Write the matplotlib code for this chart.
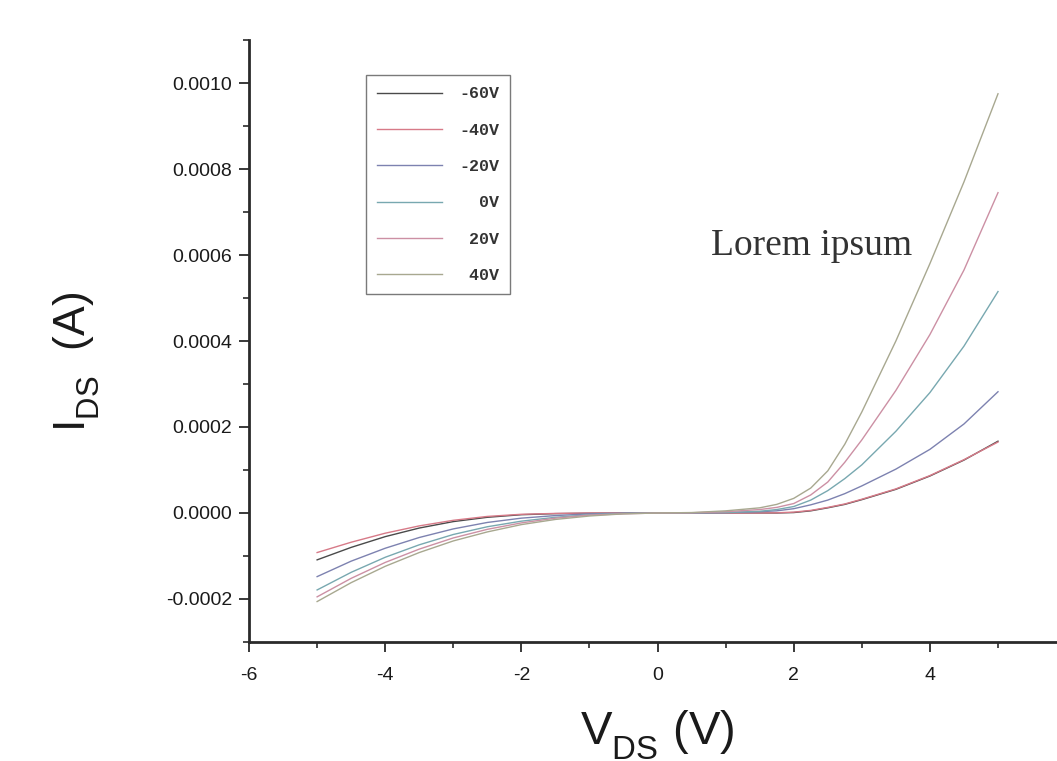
import matplotlib

matplotlib.use("Agg")
import matplotlib.pyplot as plt
import matplotlib._mathtext as mathtext_internals
from matplotlib.ticker import MultipleLocator, FormatStrFormatter

plt.rcParams["axes.unicode_minus"] = False
plt.rcParams["font.family"] = ["Liberation Sans", "DejaVu Sans"]
plt.rcParams["mathtext.fontset"] = "custom"
plt.rcParams["mathtext.rm"] = "Liberation Sans"
# drop the DS subscripts a little further below the baseline
mathtext_internals.FontConstantsBase.sub1 = 0.6
mathtext_internals.FontConstantsBase.sub2 = 0.8

# drain bias sweep (V); denser steps where the curves turn on
v_ds = [-5, -4.5, -4, -3.5, -3, -2.5, -2, -1.5, -1, -0.5, 0,
        0.5, 1, 1.5, 1.75, 2, 2.25, 2.5, 2.75, 3, 3.5, 4, 4.5, 5]

# drain current per gate bias, in units of 1e-4 A
i_m60 = [-1.09, -0.80, -0.55, -0.35, -0.20, -0.10, -0.04, -0.015, -0.005, 0, 0,
         0, 0, 0, 0, 0.01, 0.05, 0.12, 0.20, 0.31, 0.55, 0.86, 1.23, 1.67]
i_m40 = [-0.92, -0.68, -0.47, -0.30, -0.17, -0.08, -0.03, -0.01, 0, 0, 0,
         0, 0, 0, 0.005, 0.02, 0.06, 0.13, 0.21, 0.32, 0.56, 0.87, 1.24, 1.65]
i_m20 = [-1.48, -1.12, -0.82, -0.57, -0.37, -0.22, -0.12, -0.06, -0.02, -0.005, 0,
         0, 0.01, 0.03, 0.05, 0.10, 0.19, 0.30, 0.45, 0.63, 1.02, 1.48, 2.07, 2.82]
i_0 = [-1.79, -1.38, -1.03, -0.74, -0.50, -0.32, -0.19, -0.10, -0.04, -0.01, 0,
       0.005, 0.01, 0.04, 0.08, 0.15, 0.30, 0.52, 0.80, 1.12, 1.90, 2.80, 3.88, 5.15]
i_p20 = [-1.95, -1.52, -1.15, -0.84, -0.58, -0.38, -0.23, -0.12, -0.05, -0.02, 0,
         0.005, 0.03, 0.08, 0.13, 0.22, 0.42, 0.72, 1.18, 1.70, 2.85, 4.15, 5.65, 7.45]
i_p40 = [-2.06, -1.62, -1.24, -0.92, -0.65, -0.44, -0.27, -0.15, -0.07, -0.02, 0,
         0.01, 0.05, 0.12, 0.20, 0.34, 0.58, 0.98, 1.60, 2.35, 4.00, 5.80, 7.70, 9.75]

gate_labels = ["-60V", "-40V", "-20V", "  0V", " 20V", " 40V"]
series = [i_m60, i_m40, i_m20, i_0, i_p20, i_p40]
colors = ["#4a4a4a", "#d77a88", "#7d82b0", "#78a8b0", "#cc90a4", "#a8a890"]

fig = plt.figure(figsize=(10.57, 7.61), dpi=100)
ax = fig.add_axes([0.2356, 0.1564, 0.773, 0.791])

for label, cur, col in zip(gate_labels, series, colors):
    ax.plot(v_ds, [c * 1e-4 for c in cur], color=col, lw=1.0, label=label)

ax.set_xlim(-6, 6)
ax.set_ylim(-0.0003, 0.0011)

ax.xaxis.set_major_locator(MultipleLocator(2))
ax.xaxis.set_minor_locator(MultipleLocator(1))
ax.yaxis.set_major_locator(MultipleLocator(0.0002))
ax.yaxis.set_minor_locator(MultipleLocator(0.0001))
ax.yaxis.set_major_formatter(FormatStrFormatter("%.4f"))

for side in ("top", "right"):
    ax.spines[side].set_visible(False)
for side in ("left", "bottom"):
    ax.spines[side].set_linewidth(2.0)
    ax.spines[side].set_color("#2a2a2a")

ax.tick_params(which="major", direction="out", length=7, width=1.3,
               color="#2a2a2a", labelsize=14, labelcolor="#1a1a1a", pad=5)
ax.tick_params(axis="x", which="major", pad=11)
ax.tick_params(which="minor", direction="out", length=4, width=1.2,
               color="#2a2a2a")

ax.set_xlabel(r"$\mathregular{V_{DS}}$ (V)", fontsize=34, color="#1a1a1a")
ax.xaxis.set_label_coords(0.5, -0.11)
ax.set_ylabel(r"$\mathregular{I_{DS}}$  (A)", fontsize=32, color="#1a1a1a")
ax.yaxis.set_label_coords(-0.18, 0.465)

ax.text(0.79, 0.0006, "Lorem ipsum", family="Liberation Serif", fontsize=27,
        color="#333333", ha="left", va="baseline")

leg = ax.legend(loc="upper left", bbox_to_anchor=(0.3463, 0.9014),
                bbox_transform=fig.transFigure, borderaxespad=0,
                prop=dict(family="Liberation Mono", weight="bold", size=12),
                handlelength=3.9, handletextpad=1.0, labelspacing=1.28,
                borderpad=0.68, fancybox=False, framealpha=1,
                edgecolor="#7a7a7a")
leg.get_frame().set_linewidth(1.0)
for t in leg.get_texts():
    t.set_color("#333333")

fig.savefig("out.png", dpi=100)
